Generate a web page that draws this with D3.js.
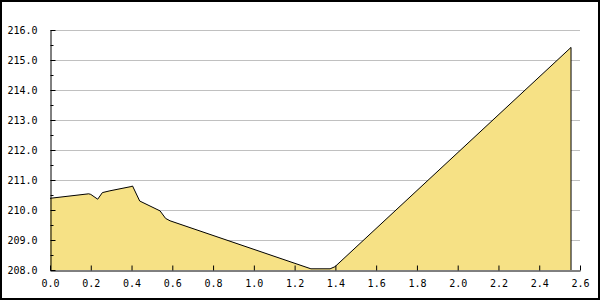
<!DOCTYPE html>
<html lang="en">
<head>
    <meta charset="UTF-8">
    <title>Area chart</title>
    <script src="https://cdnjs.cloudflare.com/ajax/libs/d3/7.8.5/d3.min.js"></script>
    <style>
        body { margin: 0; padding: 0; background: #fff; }
        .tick text { font-family: "DejaVu Sans Mono", monospace; font-size: 10px; fill: #000; }
        .grid line { stroke: #c0c0c0; stroke-width: 1px; }
    </style>
</head>
<body>
    <div id="chart"></div>
    <script>
        // values
        const xValues = [0, 0.19, 0.2, 0.234, 0.257, 0.294, 0.397, 0.405, 0.44, 0.54, 0.567, 0.589, 1.28, 1.374, 1.398, 2.556];
        const yValues = [210.39, 210.54, 210.52, 210.36, 210.58, 210.64, 210.78, 210.8, 210.3, 209.97, 209.72, 209.64, 208.04, 208.04, 208.11, 215.42];
        const xTicks = [0, 0.2, 0.4, 0.6, 0.8, 1.0, 1.2, 1.4, 1.6, 1.8, 2.0, 2.2, 2.4, 2.6];
        const yTicks = [208, 209, 210, 211, 212, 213, 214, 215, 216];
        const yMinorTicks = [208.5, 209.5, 210.5, 211.5, 212.5, 213.5, 214.5, 215.5];

        const width = 600, height = 300;
        const margin = { top: 30, right: 20, bottom: 30, left: 50 };

        const svg = d3.select('#chart').append('svg')
            .attr('width', width)
            .attr('height', height);

        const x = d3.scaleLinear().domain([0, 2.6]).range([margin.left, width - margin.right]);
        const y = d3.scaleLinear().domain([208, 216]).range([height - margin.bottom, margin.top]);

        // grid lines
        svg.append('g')
            .attr('class', 'grid')
            .selectAll('line')
            .data(yTicks.slice(1))
            .join('line')
            .attr('x1', x(0))
            .attr('x2', x(2.6))
            .attr('y1', d => Math.round(y(d)) + 0.5)
            .attr('y2', d => Math.round(y(d)) + 0.5);

        // area
        const data = xValues.map((v, i) => ({ x: v, y: yValues[i] }));
        const area = d3.area()
            .x(d => x(d.x))
            .y0(y(208))
            .y1(d => y(d.y));
        svg.append('path')
            .datum(data)
            .attr('d', area)
            .attr('fill', '#f6e185')
            .attr('stroke', 'none');

        const line = d3.line().x(d => x(d.x)).y(d => y(d.y));
        const last = data[data.length - 1];
        svg.append('path')
            .datum(data.concat([{ x: last.x, y: 208 }]))
            .attr('d', line)
            .attr('fill', 'none')
            .attr('stroke', '#000')
            .attr('stroke-width', 1);

        // axes
        const xAxis = svg.append('g')
            .attr('transform', `translate(0,${y(208) + 0.5})`)
            .call(d3.axisBottom(x).tickValues(xTicks).tickFormat(d3.format('.1f')).tickSizeInner(-5).tickSizeOuter(0).tickPadding(9));
        xAxis.select('.domain').attr('stroke', '#000');

        const yAxis = svg.append('g')
            .attr('transform', `translate(${x(0) + 0.5},0)`)
            .call(d3.axisLeft(y).tickValues(yTicks).tickFormat(d3.format('.1f')).tickSizeInner(-5).tickSizeOuter(0).tickPadding(13));
        yAxis.select('.domain').attr('stroke', '#000');

        yAxis.selectAll('.minor')
            .data(yMinorTicks)
            .join('line')
            .attr('class', 'minor')
            .attr('x1', 0)
            .attr('x2', 3)
            .attr('y1', d => Math.round(y(d)) + 0.5)
            .attr('y2', d => Math.round(y(d)) + 0.5)
            .attr('stroke', '#000');

        // frame
        svg.append('rect')
            .attr('x', 1).attr('y', 1)
            .attr('width', width - 2).attr('height', height - 2)
            .attr('fill', 'none')
            .attr('stroke', '#000')
            .attr('stroke-width', 2);
    </script>
</body>
</html>
